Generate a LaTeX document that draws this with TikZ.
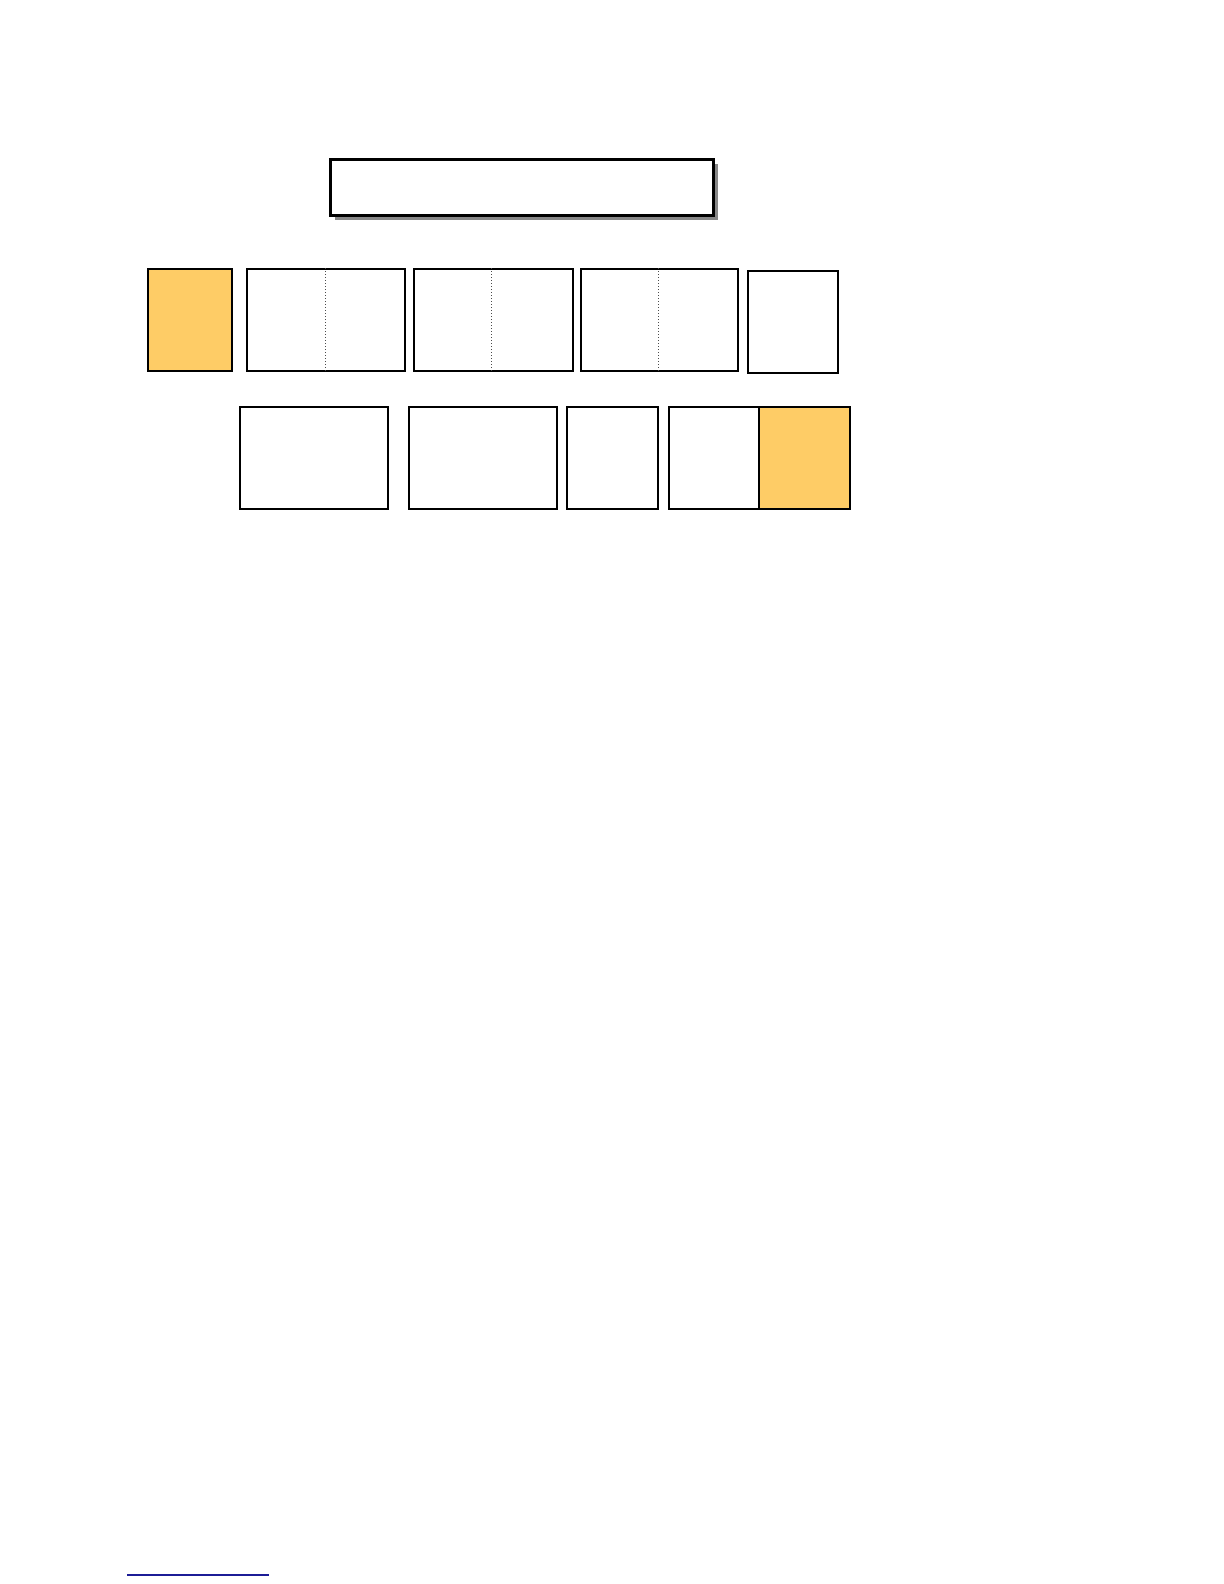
\documentclass[tikz,border=0pt]{standalone}
\usepackage{amssymb}
\usepackage{amsmath}
\usetikzlibrary{calc,shadows}

\definecolor{cellorange}{HTML}{FECC66}
\definecolor{notelink}{HTML}{1C1C96}

\begin{document}
\begin{tikzpicture}[thick,x=0.5pt,y=-0.5pt,
  cell/.style={draw=black,line width=1pt,fill=white,inner sep=0,minimum height=51pt,
    drop shadow={shadow xshift=0.6pt,shadow yshift=-0.6pt,fill=black,opacity=1}},
  hotcell/.style={cell,fill=cellorange},
  titlebox/.style={draw=black,line width=1.5pt,fill=white,inner sep=0,minimum width=191.5pt,minimum height=28pt,
    drop shadow={shadow xshift=2.3pt,shadow yshift=-2.3pt,fill=black!47,opacity=1}},
  divider/.style={black!70,line width=0.5pt,densely dotted}]

\useasboundingbox (0,0) rectangle (1224,1584);

% title
\node [titlebox] (title) at (521.5,187) {};

% first row
\node [hotcell,minimum width=42pt] (lead) at (190,320) {};
\node [cell,minimum width=79pt] (pairA) at (326,320) {};
\node [cell,minimum width=79.5pt] (pairB) at (493.5,320) {};
\node [cell,minimum width=78.5pt] (pairC) at (659.5,320) {};
\node [cell,minimum width=45pt] (single) at (793,322) {};

\draw [divider] ($(pairA.north)+(-1,0)$) -- ($(pairA.south)+(-1,0)$);
\draw [divider] ($(pairB.north)+(-2.5,0)$) -- ($(pairB.south)+(-2.5,0)$);
\draw [divider] ($(pairC.north)+(-1.5,0)$) -- ($(pairC.south)+(-1.5,0)$);

% second row
\node [cell,minimum width=74pt] (wideA) at (314,458) {};
\node [cell,minimum width=74pt] (wideB) at (483,458) {};
\node [cell,minimum width=45.5pt] (narrow) at (612.5,458) {};
\node [cell,minimum width=45pt] (tailW) at (714,458) {};
\node [hotcell,minimum width=45.5pt] (tailO) at (804.5,458) {};

% footnote rule
\coordinate (ruleL) at (127,1575);
\coordinate (ruleR) at (269,1575);
\draw [notelink,line width=0.6pt] (ruleL) -- (ruleR);

\end{tikzpicture}
\end{document}
